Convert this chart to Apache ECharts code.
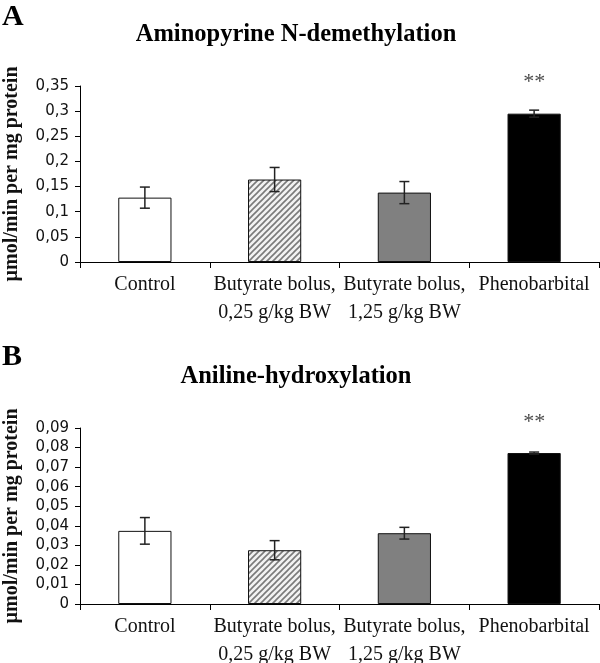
<!DOCTYPE html>
<html>
<head>
<meta charset="utf-8">
<script src="https://cdn.jsdelivr.net/npm/echarts@6/dist/echarts.min.js"></script>
<style>
html,body{margin:0;padding:0;background:#fff;}
#c{width:600px;height:663px;}
</style>
</head>
<body>
<div id="c"></div>
<script>
var categories = ['Control', 'Butyrate bolus,\n0,25 g/kg BW', 'Butyrate bolus,\n1,25 g/kg BW', 'Phenobarbital'];
var aminopyrineMean = [0.128, 0.164, 0.138, 0.295];
var aminopyrineErr = [0.021, 0.024, 0.022, 0.007];
var anilineMean = [0.0374, 0.0275, 0.0362, 0.0772];
var anilineErr = [0.0068, 0.0049, 0.0030, 0.0005];
var significance = ['', '', '', '**'];
var titleA = 'Aminopyrine N-demethylation';
var titleB = 'Aniline-hydroxylation';
var yName = 'µmol/min per mg protein';

function hatch() {
  var c = document.createElement('canvas');
  c.width = 6; c.height = 6;
  var g = c.getContext('2d');
  g.fillStyle = '#f2f2f2';
  g.fillRect(0, 0, 6, 6);
  g.strokeStyle = '#7a7a7a';
  g.lineWidth = 1.6;
  g.beginPath();
  g.moveTo(-1, 7); g.lineTo(7, -1);
  g.moveTo(-4, 4); g.lineTo(4, -4);
  g.moveTo(2, 10); g.lineTo(10, 2);
  g.stroke();
  return c;
}
var pattern = {image: hatch(), repeat: 'repeat'};
var fills = ['#ffffff', pattern, '#808080', '#000000'];

function barData(means) {
  return means.map(function (v, i) {
    var d = {value: v, itemStyle: {color: fills[i], borderColor: '#111', borderWidth: 1}};
    if (significance[i]) {
      d.label = {show: true, position: 'top', distance: 20, formatter: significance[i],
        fontFamily: 'Liberation Serif', fontSize: 22, color: '#4a4a4a'};
    }
    return d;
  });
}
function errData(means, errs) {
  return means.map(function (v, i) { return [i, v - errs[i], v + errs[i]]; });
}
function renderErr(params, api) {
  var i = api.value(0);
  var lo = api.coord([i, api.value(1)]);
  var hi = api.coord([i, api.value(2)]);
  var w = 5;
  var st = {stroke: '#222', lineWidth: 1.5};
  return {type: 'group', children: [
    {type: 'line', shape: {x1: hi[0], y1: hi[1], x2: lo[0], y2: lo[1]}, style: st},
    {type: 'line', shape: {x1: hi[0] - w, y1: hi[1], x2: hi[0] + w, y2: hi[1]}, style: st},
    {type: 'line', shape: {x1: lo[0] - w, y1: lo[1], x2: lo[0] + w, y2: lo[1]}, style: st}
  ]};
}
function fmt(v) { return String(parseFloat(v.toFixed(3))).replace('.', ','); }

function xAx(idx) {
  return {type: 'category', gridIndex: idx, data: categories,
    axisLine: {lineStyle: {color: '#000', width: 1}},
    axisTick: {show: true, length: 6, lineStyle: {color: '#000'}},
    axisLabel: {interval: 0, margin: 9, color: '#111', fontFamily: 'Liberation Serif', fontSize: 20, lineHeight: 28}};
}
function yAx(idx, max, step) {
  return {type: 'value', gridIndex: idx, min: 0, max: max, interval: step,
    name: yName, nameLocation: 'middle', nameGap: 58,
    nameTextStyle: {fontFamily: 'Liberation Serif', fontWeight: 'bold', fontSize: 20, color: '#111'},
    splitLine: {show: false},
    axisLine: {show: true, lineStyle: {color: '#000', width: 1}},
    axisTick: {show: true, length: 5, lineStyle: {color: '#000'}},
    axisLabel: {margin: 11, color: '#111', fontFamily: 'DejaVu Sans', fontSize: 15, formatter: fmt}};
}

var chart = echarts.init(document.getElementById('c'), null, {renderer: 'canvas'});
chart.setOption({
  animation: false,
  backgroundColor: '#fff',
  title: [
    {text: titleA, left: 291, top: 17, textAlign: 'center',
      textStyle: {fontFamily: 'Liberation Serif', fontWeight: 'bold', fontSize: 24.5, color: '#000'}},
    {text: titleB, left: 291, top: 359, textAlign: 'center',
      textStyle: {fontFamily: 'Liberation Serif', fontWeight: 'bold', fontSize: 24.5, color: '#000'}}
  ],
  graphic: [
    {type: 'text', left: 2, top: 2, style: {text: 'A', fontFamily: 'Liberation Serif', fontWeight: 'bold', fontSize: 30, fill: '#000'}},
    {type: 'text', left: 2, top: 342, style: {text: 'B', fontFamily: 'Liberation Serif', fontWeight: 'bold', fontSize: 30, fill: '#000'}}
  ],
  grid: [
    {left: 80, right: 1, top: 86, height: 176, outerBoundsMode: 'none', containLabel: false},
    {left: 80, right: 1, top: 428, height: 176, outerBoundsMode: 'none', containLabel: false}
  ],
  xAxis: [xAx(0), xAx(1)],
  yAxis: [yAx(0, 0.35, 0.05), yAx(1, 0.09, 0.01)],
  series: [
    {type: 'bar', xAxisIndex: 0, yAxisIndex: 0, barWidth: '41%', data: barData(aminopyrineMean)},
    {type: 'custom', xAxisIndex: 0, yAxisIndex: 0, renderItem: renderErr, data: errData(aminopyrineMean, aminopyrineErr), z: 5},
    {type: 'bar', xAxisIndex: 1, yAxisIndex: 1, barWidth: '41%', data: barData(anilineMean)},
    {type: 'custom', xAxisIndex: 1, yAxisIndex: 1, renderItem: renderErr, data: errData(anilineMean, anilineErr), z: 5}
  ]
});
</script>
</body>
</html>
